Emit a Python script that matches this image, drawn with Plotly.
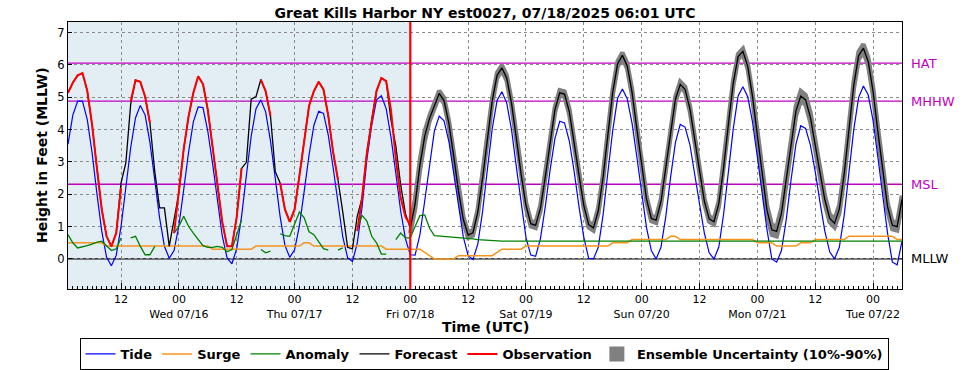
import plotly.graph_objects as go
import pandas as pd

# ---------------- data (hourly, starting 2025-07-15 01:00 UTC) ----------------
START = "2025-07-15 01:00"
END = "2025-07-22 06:00"
NOW = "2025-07-18 00:00"

tide = [
    3.55, 4.45, 4.88, 4.88, 4.31, 3.28, 2.02, 0.86, 0.05, -0.21,
    0.11, 1.00, 2.21, 3.44, 4.36, 4.75, 4.45, 3.60, 2.44, 1.27,
    0.39, 0.02, 0.26, 1.03, 2.14, 3.29, 4.24, 4.70, 4.68, 3.95,
    2.94, 1.77, 0.71, 0.03, -0.15, 0.32, 1.31, 2.58, 3.80, 4.65,
    4.92, 4.55, 3.65, 2.49, 1.31, 0.42, 0.05, 0.28, 1.02, 2.10,
    3.21, 4.13, 4.57, 4.50, 3.82, 2.82, 1.68, 0.68, 0.04, -0.08,
    0.49, 1.60, 3.08, 4.14, 4.92, 5.05, 4.65, 3.77, 2.65, 1.49,
    0.62, 0.13, 0.12, 0.75, 1.80, 2.96, 3.96, 4.42, 4.27, 3.64,
    2.69, 1.62, 0.68, 0.10, -0.02, 0.46, 1.47, 2.78, 4.03, 4.90,
    5.17, 4.83, 4.00, 2.85, 1.67, 0.66, 0.12, 0.08, 0.63, 1.61,
    2.75, 3.72, 4.26, 4.21, 3.64, 2.70, 1.61, 0.67, 0.02, 0.00,
    0.36, 1.37, 2.69, 3.98, 4.97, 5.26, 4.96, 4.20, 3.15, 2.00,
    0.97, 0.26, 0.00, 0.36, 1.31, 2.53, 3.60, 4.16, 4.08, 3.54,
    2.68, 1.70, 0.80, 0.19, 0.00, 0.37, 1.39, 2.73, 4.03, 5.04,
    5.33, 5.02, 4.23, 3.15, 1.96, 0.90, 0.00, -0.10, 0.26, 1.23,
    2.46, 3.55, 4.12, 4.04, 3.52, 2.70, 1.74, 0.85, 0.22, 0.00,
    0.36, 1.34, 2.68, 4.01, 4.99, 5.35, 5.07, 4.28, 3.14, 2.00,
    0.80, -0.10, -0.18, 0.55,
]

surge = [
    0.5, 0.5, 0.5, 0.5, 0.5, 0.5, 0.5, 0.5, 0.4, 0.4,
    0.4, 0.4, 0.4, 0.4, 0.4, 0.4, 0.4, 0.4, 0.4, 0.4,
    0.4, 0.4, 0.4, 0.4, 0.4, 0.4, 0.4, 0.4, 0.4, 0.4,
    0.3, 0.3, 0.3, 0.3, 0.3, 0.3, 0.3, 0.3, 0.3, 0.4,
    0.4, 0.4, 0.4, 0.4, 0.4, 0.4, 0.4, 0.4, 0.4, 0.5,
    0.5, 0.4, 0.4, 0.4, 0.4, 0.4, 0.4, 0.4, 0.4, 0.4,
    0.4, 0.4, 0.4, 0.4, 0.4, 0.4, 0.3, 0.3, 0.3, 0.3,
    0.3, 0.3, 0.3, 0.3, 0.2, 0.1, 0.0, 0.0, 0.0, 0.0,
    0.0, 0.1, 0.1, 0.1, 0.1, 0.1, 0.1, 0.1, 0.1, 0.2,
    0.3, 0.3, 0.3, 0.3, 0.3, 0.4, 0.4, 0.4, 0.4, 0.4,
    0.4, 0.4, 0.4, 0.4, 0.4, 0.4, 0.4, 0.4, 0.4, 0.4,
    0.4, 0.4, 0.4, 0.5, 0.5, 0.5, 0.5, 0.6, 0.6, 0.6,
    0.6, 0.6, 0.6, 0.6, 0.6, 0.7, 0.7, 0.6, 0.6, 0.6,
    0.6, 0.6, 0.6, 0.6, 0.6, 0.6, 0.6, 0.6, 0.6, 0.6,
    0.6, 0.6, 0.6, 0.5, 0.5, 0.5, 0.5, 0.4, 0.4, 0.4,
    0.4, 0.4, 0.5, 0.5, 0.5, 0.6, 0.6, 0.6, 0.6, 0.6,
    0.6, 0.6, 0.7, 0.7, 0.7, 0.7, 0.7, 0.7, 0.7, 0.7,
    0.7, 0.7, 0.6, 0.6,
]

anomaly = [
    0.75, 0.50, 0.34, 0.37, 0.41, 0.46, 0.52, 0.55, 0.39, 0.26,
    0.31, 0.65, None, 0.65, 0.70, 0.39, 0.13, 0.13, 0.39, None,
    None, None, 0.80, 1.01, 1.32, 1.01, 0.80, 0.60, 0.41, 0.36,
    0.36, 0.39, 0.36, 0.22, 0.29, 0.75, 1.20, None, None, None,
    0.29, 0.19, 0.24, None, 0.78, 0.72, 0.70, 1.06, 1.45, 1.27,
    0.84, 0.75, 0.52, 0.32, 0.27, None, 0.27, 0.34, None, None,
    0.91, 1.35, 1.17, 0.70, 0.50, 0.15, 0.15, None, 0.60, 0.80,
    0.65, 0.65, 1.00, 1.34, 1.36, 0.95, 0.72, 0.71, 0.70, 0.69,
    0.67, 0.66, 0.64, 0.63, 0.62, 0.60, 0.59, 0.57, 0.55, 0.55,
    0.55, 0.55, 0.55, 0.55, 0.55, 0.55, 0.55, 0.55, 0.55, 0.55,
    0.55, 0.55, 0.55, 0.55, 0.55, 0.55, 0.55, 0.55, 0.55, 0.55,
    0.55, 0.55, 0.55, 0.55, 0.55, 0.55, 0.55, 0.55, 0.55, 0.55,
    0.55, 0.55, 0.55, 0.55, 0.55, 0.55, 0.55, 0.55, 0.55, 0.55,
    0.55, 0.55, 0.55, 0.55, 0.55, 0.55, 0.55, 0.55, 0.55, 0.55,
    0.55, 0.55, 0.55, 0.55, 0.55, 0.55, 0.55, 0.55, 0.55, 0.55,
    0.55, 0.55, 0.55, 0.55, 0.55, 0.55, 0.55, 0.55, 0.55, 0.55,
    0.55, 0.55, 0.55, 0.55, 0.55, 0.55, 0.55, 0.55, 0.55, 0.55,
    0.55, 0.55, 0.55, 0.55,
]

forecast = [
    5.14, 5.45, 5.68, 5.75, 5.20, 4.15, 2.81, 1.53, 0.70, 0.39,
    0.80, 2.35, 2.97, 4.78, 5.53, 5.48, 5.02, 4.20, 2.70, 1.58,
    1.58, 0.39, 1.22, 2.04, 3.40, 4.40, 5.14, 5.65, 5.41, 4.61,
    3.46, 2.20, 1.14, 0.39, 0.39, 1.30, 2.80, 2.99, 4.94, 5.02,
    5.55, 5.19, 4.42, 2.70, 2.35, 1.53, 1.15, 1.53, 2.56, 3.59,
    4.73, 5.19, 5.48, 5.24, 4.42, 3.30, 2.45, 1.45, 0.36, 0.31,
    1.32, 1.89, 3.28, 4.31, 5.19, 5.60, 5.50, 4.30, 3.50, 2.30,
    1.40, 0.95, 1.70, 2.90, 3.80, 4.35, 4.75, 5.12, 4.90, 4.20,
    3.19, 2.10, 1.22, 0.74, 0.81, 1.45, 2.50, 3.74, 4.89, 5.68,
    5.91, 5.60, 4.82, 3.74, 2.61, 1.66, 1.09, 1.04, 1.57, 2.53,
    3.65, 4.61, 5.14, 5.10, 4.55, 3.64, 2.59, 1.65, 1.06, 0.96,
    1.49, 2.54, 3.88, 5.16, 6.03, 6.30, 5.97, 5.16, 4.02, 2.85,
    1.85, 1.25, 1.20, 1.77, 2.81, 3.96, 4.94, 5.40, 5.25, 4.65,
    3.73, 2.70, 1.79, 1.24, 1.15, 1.71, 2.82, 4.19, 5.45, 6.26,
    6.42, 5.96, 5.02, 3.81, 2.57, 1.50, 0.90, 0.85, 1.42, 2.46,
    3.61, 4.58, 5.04, 4.92, 4.38, 3.58, 2.66, 1.83, 1.26, 1.10,
    1.54, 2.62, 4.02, 5.38, 6.29, 6.52, 6.10, 5.18, 3.93, 2.68,
    1.62, 1.04, 1.00, 1.84,
]

observation = [
    5.14, 5.45, 5.68, 5.75, 5.20, 4.15, 2.81, 1.53, 0.70, 0.39,
    0.80, 2.20, None, 4.88, 5.53, 5.48, 5.02, 4.20, None, None,
    None, None, 0.80, 2.04, 3.40, 4.40, 5.14, 5.65, 5.41, 4.61,
    3.46, 2.20, 1.14, 0.39, 0.39, 1.30, 2.80, None, None, None,
    5.55, 5.19, 4.42, None, 2.35, 1.53, 1.15, 1.53, 2.56, 3.59,
    4.73, 5.19, 5.48, 5.24, 4.42, 3.30, 2.45, None, None, None,
    0.86, 1.89, 3.28, 4.31, 5.20, 5.60, 5.50, 4.60, 3.10, 1.90,
    1.30, 1.05,
]

# half width of the 10%-90% ensemble band, from NOW onward
ens_spread = [
    0.15, 0.15, 0.15, 0.15, 0.08, 0.08, 0.08, 0.08, 0.08, 0.08,
    0.08, 0.08, 0.08, 0.08, 0.08, 0.08, 0.08, 0.08, 0.08, 0.08,
    0.08, 0.08, 0.08, 0.08, 0.08, 0.08, 0.08, 0.08, 0.08, 0.08,
    0.08, 0.08, 0.08, 0.08, 0.08, 0.08, 0.08, 0.08, 0.08, 0.08,
    0.08, 0.08, 0.08, 0.08, 0.08, 0.08, 0.08, 0.08, 0.08, 0.08,
    0.08, 0.08, 0.08, 0.08, 0.08, 0.08, 0.08, 0.08, 0.08, 0.08,
    0.08, 0.08, 0.08, 0.08, 0.08, 0.08, 0.08, 0.08, 0.08, 0.08,
    0.08, 0.08, 0.08, 0.08, 0.15, 0.15, 0.15, 0.15, 0.15, 0.15,
    0.15, 0.15, 0.15, 0.15, 0.12, 0.12, 0.12, 0.12, 0.12, 0.12,
    0.12, 0.12, 0.12, 0.12, 0.12, 0.12, 0.12, 0.12, 0.12, 0.12,
    0.12, 0.12, 0.12,
]

datum_names = ["HAT", "MHHW", "MSL", "MLLW"]
datum_values = [6.06, 4.88, 2.31, 0.0]

xtick_vals = [
    "2025-07-15 12:00", "2025-07-16 00:00", "2025-07-16 12:00", "2025-07-17 00:00",
    "2025-07-17 12:00", "2025-07-18 00:00", "2025-07-18 12:00", "2025-07-19 00:00",
    "2025-07-19 12:00", "2025-07-20 00:00", "2025-07-20 12:00", "2025-07-21 00:00",
    "2025-07-21 12:00", "2025-07-22 00:00",
]
xtick_text = [
    "12", "00<br>Wed 07/16", "12", "00<br>Thu 07/17", "12", "00<br>Fri 07/18",
    "12", "00<br>Sat 07/19", "12", "00<br>Sun 07/20", "12", "00<br>Mon 07/21",
    "12", "00<br>Tue 07/22",
]
ytick_vals = [0, 1, 2, 3, 4, 5, 6, 7]

# ---------------- derived ----------------
times = pd.date_range(START, periods=len(tide), freq="h")
n_obs = len(observation)
obs_times = times[:n_obs]
ens_times = times[n_obs - 1:]
ens_center = forecast[n_obs - 1:]
ens_low = [c - s for c, s in zip(ens_center, ens_spread)]
ens_high = [c + s for c, s in zip(ens_center, ens_spread)]

FONT = "DejaVu Sans"
GRAY = "#808080"
MAGENTA = "#c000c0"
W, H = 969, 370

fig = go.Figure()

fig.add_trace(go.Scatter(x=ens_times, y=ens_low, mode="lines",
                         line=dict(color=GRAY, width=4.5), showlegend=False,
                         hoverinfo="skip"))
fig.add_trace(go.Scatter(x=ens_times, y=ens_high, mode="lines", fill="tonexty",
                         fillcolor=GRAY, line=dict(color=GRAY, width=4.5),
                         showlegend=False, hoverinfo="skip"))

fig.add_trace(go.Scatter(x=times, y=tide, mode="lines", name="Tide",
                         line=dict(color="#0000ff", width=1.2)))
fig.add_trace(go.Scatter(x=times, y=surge, mode="lines", name="Surge",
                         line=dict(color="#f7941d", width=1.5)))
fig.add_trace(go.Scatter(x=times, y=anomaly, mode="lines", name="Anomaly",
                         line=dict(color="#008000", width=1.3)))
fig.add_trace(go.Scatter(x=times, y=forecast, mode="lines", name="Forecast",
                         line=dict(color="black", width=1.3)))
fig.add_trace(go.Scatter(x=obs_times, y=observation, mode="lines", name="Observation",
                         line=dict(color="#ff0000", width=2)))
fig.add_trace(go.Scatter(x=[None], y=[None], mode="markers",
                         name="Ensemble Uncertainty (10%-90%)",
                         marker=dict(symbol="square", size=15, color=GRAY)))

shapes = [
    dict(type="rect", xref="x", yref="paper", x0=START, x1=NOW, y0=0, y1=1,
         fillcolor="#e3edf4", line=dict(width=0), layer="below"),
]
for name, val in zip(datum_names, datum_values):
    col = "black" if name == "MLLW" else MAGENTA
    shapes.append(dict(type="line", xref="paper", yref="y", x0=0, x1=1, y0=val, y1=val,
                       line=dict(color=col, width=1.3), layer="between"))
    fig.add_annotation(x=1, xref="paper", y=val, yref="y", text=name, showarrow=False,
                       xanchor="left", yanchor="middle", xshift=7,
                       font=dict(family=FONT, size=13, color=col))
shapes.append(dict(type="line", xref="x", yref="paper", x0=NOW, x1=NOW, y0=0, y1=1,
                   line=dict(color="#ff0000", width=2.2), layer="above"))

# plot area in window pixels: x 68..902, y 22..289
PL, PR, PT, PB = 68, 902, 22, 289
PW, PH = PR - PL, PB - PT

fig.add_annotation(text="Height in Feet (MLLW)", xref="paper", yref="paper",
                   x=(41.5 - PL) / PW, y=0.5, textangle=-90, showarrow=False,
                   xanchor="center", yanchor="middle",
                   font=dict(family=FONT, size=14, color="black", weight="bold"))
fig.add_annotation(text="Time (UTC)", xref="paper", yref="paper",
                   x=0.5, y=-(327 - PB) / PH, showarrow=False,
                   xanchor="center", yanchor="middle",
                   font=dict(family=FONT, size=14, color="black", weight="bold"))

fig.update_layout(
    width=W, height=H,
    margin=dict(l=PL, r=W - PR, t=PT, b=H - PB, autoexpand=False),
    paper_bgcolor="white", plot_bgcolor="white",
    font=dict(family=FONT, size=11, color="black"),
    title=dict(text="Great Kills Harbor NY est0027, 07/18/2025 06:01 UTC",
               x=0.5, xref="paper", xanchor="center",
               y=1 - 13 / H, yref="container", yanchor="middle",
               font=dict(family=FONT, size=14, color="black", weight="bold")),
    shapes=shapes,
    showlegend=True,
    legend=dict(orientation="h", xref="container", yref="container",
                x=484 / W, xanchor="center", y=1 - 338 / H, yanchor="top",
                bordercolor="black", borderwidth=1, bgcolor="white",
                traceorder="normal",
                font=dict(family=FONT, size=13, color="black", weight="bold"),
                itemwidth=30, tracegroupgap=0),
    xaxis=dict(type="date", range=[START, END], automargin=False,
               tickmode="array", tickvals=xtick_vals, ticktext=xtick_text,
               ticks="inside", ticklen=6, tickcolor="black",
               showline=True, linecolor="black", linewidth=1, mirror=True,
               showgrid=True, gridcolor="#8a8a8a", griddash="dot", gridwidth=1,
               tickfont=dict(family=FONT, size=11, color="black"),
               minor=dict(tickmode="linear", tick0="2025-07-15 00:00", dtick=3600000,
                          ticks="inside", ticklen=3, tickcolor="black", showgrid=False),
               zeroline=False),
    yaxis=dict(range=[-0.93, 7.33], tickmode="array", tickvals=ytick_vals,
               automargin=False,
               ticks="inside", ticklen=4, tickcolor="black",
               showline=True, linecolor="black", linewidth=1, mirror=True,
               showgrid=True, gridcolor="#8a8a8a", griddash="dot", gridwidth=1,
               tickfont=dict(family=FONT, size=11.5, color="black"),
               zeroline=False),
)

# remove the browser's default 8px page margin so the figure fills the window
fig.write_html("out.html",
               config={"displayModeBar": False},
               post_script="document.body.style.margin='0px';document.body.style.overflow='hidden';")
